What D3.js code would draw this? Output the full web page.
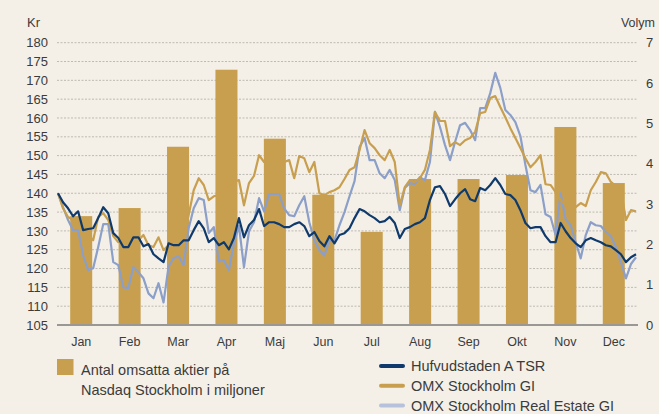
<!DOCTYPE html>
<html>
<head>
<meta charset="utf-8">
<script src="https://cdn.jsdelivr.net/npm/d3@7"></script>
<style>
  html, body { margin: 0; padding: 0; background: #f4f0e8; }
  svg { display: block; }
  text { font-family: "Liberation Sans", Arial, sans-serif; fill: #3b3b3b; }
</style>
</head>
<body>
<svg id="chart" width="659" height="414"></svg>
<script>
// Monthly trading volume (millions of shares) and month labels
const months = ["Jan", "Feb", "Mar", "Apr", "Maj", "Jun", "Jul", "Aug", "Sep", "Okt", "Nov", "Dec"];
const volume = [2.70, 2.90, 4.42, 6.33, 4.62, 3.23, 2.31, 3.62, 3.62, 3.72, 4.91, 3.52];

// Price ticks (left, Kr) and volume ticks (right)
const priceTicks = [105, 110, 115, 120, 125, 130, 135, 140, 145, 150, 155, 160, 165, 170, 175, 180];
const volumeTicks = [0, 1, 2, 3, 4, 5, 6, 7];

// Index series over the year, sampled at regular intervals
const hufvudstaden = [140.0, 137.6, 136.0, 133.9, 135.2, 130.2, 130.5, 130.7, 133.4, 136.3, 134.7, 129.4, 128.1, 125.7, 125.7, 128.3, 128.3, 125.9, 126.5, 123.8, 122.7, 121.7, 126.7, 126.2, 126.2, 127.5, 127.5, 130.2, 132.6, 130.7, 127.0, 128.1, 126.2, 127.0, 125.1, 128.1, 133.4, 128.3, 131.5, 132.9, 135.8, 131.3, 132.3, 132.3, 131.8, 131.0, 131.0, 131.8, 132.3, 131.3, 128.6, 129.7, 127.3, 125.9, 128.6, 126.7, 128.9, 129.4, 130.7, 133.4, 135.8, 135.2, 134.2, 133.4, 132.3, 132.6, 133.7, 132.1, 128.1, 130.5, 131.0, 131.8, 132.3, 133.4, 138.2, 141.6, 141.9, 139.8, 136.6, 138.4, 140.0, 141.1, 138.4, 137.9, 141.4, 140.8, 142.2, 144.0, 142.2, 139.8, 139.5, 138.2, 135.5, 132.1, 130.7, 131.0, 131.0, 128.6, 127.0, 127.0, 132.1, 129.9, 128.1, 126.7, 125.7, 127.5, 128.1, 127.5, 127.0, 126.2, 125.9, 124.9, 123.8, 121.7, 123.0, 123.8];
const omxGI = [140.0, 136.0, 133.7, 132.9, 133.7, 129.4, 128.9, 127.5, 133.7, 134.7, 132.9, 128.6, 127.0, 127.5, 126.7, 128.1, 127.5, 128.9, 126.2, 125.7, 128.3, 124.9, 126.2, 126.7, 127.0, 128.3, 134.2, 140.8, 144.0, 142.2, 138.2, 139.2, 139.5, 140.8, 142.2, 143.0, 143.5, 136.8, 142.7, 144.6, 150.1, 148.3, 148.8, 149.9, 149.3, 148.3, 148.8, 144.0, 149.9, 149.3, 145.6, 148.3, 140.0, 139.5, 140.3, 140.8, 141.6, 143.8, 146.2, 146.9, 151.5, 156.8, 153.3, 152.0, 150.1, 148.8, 151.5, 148.3, 136.8, 141.6, 143.5, 143.0, 144.0, 146.2, 151.5, 161.6, 159.2, 159.2, 152.5, 153.6, 152.8, 154.1, 154.7, 156.3, 161.3, 161.6, 165.3, 165.8, 162.9, 160.2, 157.3, 154.7, 152.0, 149.3, 146.9, 148.3, 150.1, 142.4, 142.2, 140.3, 138.2, 136.8, 136.3, 136.3, 137.4, 136.6, 140.8, 143.0, 145.6, 145.3, 143.0, 141.9, 140.8, 132.9, 135.5, 135.2];
const omxRealEstate = [140.0, 136.3, 132.9, 130.2, 130.2, 123.5, 119.6, 120.1, 125.7, 131.8, 131.8, 121.7, 120.9, 115.0, 114.8, 120.4, 119.0, 117.4, 113.4, 112.1, 116.1, 111.0, 120.6, 122.7, 123.3, 120.9, 130.7, 136.0, 138.7, 138.2, 129.4, 131.0, 121.9, 122.2, 119.6, 126.7, 131.3, 120.4, 129.9, 132.3, 138.7, 135.2, 139.8, 139.8, 139.8, 136.0, 134.2, 133.9, 136.8, 139.2, 132.3, 127.5, 124.9, 123.5, 127.5, 127.5, 131.5, 135.0, 139.2, 143.2, 152.3, 154.7, 148.8, 148.8, 145.3, 144.0, 146.2, 143.5, 135.5, 141.4, 142.7, 142.4, 144.3, 143.5, 148.3, 161.6, 157.6, 152.8, 148.8, 153.6, 158.1, 158.7, 156.8, 154.1, 162.6, 162.6, 166.6, 172.0, 168.0, 162.1, 160.8, 158.9, 155.2, 147.5, 140.8, 140.3, 142.2, 134.4, 133.7, 128.9, 140.0, 133.1, 131.5, 127.0, 122.7, 128.9, 132.3, 131.5, 131.3, 129.7, 128.6, 125.7, 121.7, 117.4, 121.2, 123.0];

const colors = {
  navy: "#0f3a6b",
  gold: "#c89f4e",
  blue: "#8c9fc8",
  blueLegend: "#b6c1dc",
  grid: "#bdbab3",
  axis: "#9a9894"
};

const svg = d3.select("#chart");
const plotLeft = 57, plotRight = 638, plotTop = 42.7, plotBottom = 325;

const yPrice = d3.scaleLinear().domain([105, 180]).range([plotBottom, plotTop]);
const yVol = d3.scaleLinear().domain([0, 7]).range([plotBottom, plotTop]);
const xMonth = d3.scaleBand().domain(months).range([plotLeft, plotRight])
  .paddingInner(0.545).paddingOuter(0.2725);
const xDay = d3.scaleLinear().domain([0, hufvudstaden.length - 1]).range([58, 636]);

// Dashed gridlines at each price tick
svg.append("g")
  .selectAll("line")
  .data(priceTicks.filter(d => d > 105))
  .join("line")
  .attr("x1", plotLeft).attr("x2", plotRight)
  .attr("y1", d => yPrice(d)).attr("y2", d => yPrice(d))
  .attr("stroke", colors.grid)
  .attr("stroke-width", 1)
  .attr("stroke-dasharray", "2,1.5");

// Volume bars
svg.append("g")
  .selectAll("rect")
  .data(months)
  .join("rect")
  .attr("x", d => xMonth(d))
  .attr("width", xMonth.bandwidth())
  .attr("y", (d, i) => yVol(volume[i]))
  .attr("height", (d, i) => yVol(0) - yVol(volume[i]))
  .attr("fill", colors.gold);

// Baseline
svg.append("line")
  .attr("x1", plotLeft).attr("x2", plotRight)
  .attr("y1", plotBottom).attr("y2", plotBottom)
  .attr("stroke", colors.axis).attr("stroke-width", 2);

// Index lines
const line = d3.line().x((d, i) => xDay(i)).y(d => yPrice(d)).curve(d3.curveLinear);
[[omxRealEstate, colors.blue], [omxGI, colors.gold], [hufvudstaden, colors.navy]].forEach(([data, c]) => {
  svg.append("path")
    .datum(data)
    .attr("d", line)
    .attr("fill", "none")
    .attr("stroke", c)
    .attr("stroke-width", 2.2)
    .attr("stroke-linejoin", "round");
});

// Left axis labels
const yAxisL = d3.axisLeft(yPrice).tickValues(priceTicks).tickSize(0).tickPadding(0);
const gL = svg.append("g").attr("transform", "translate(48,0)").call(yAxisL);
gL.select(".domain").remove();
gL.attr("font-family", null).attr("font-size", null);
gL.selectAll("text").attr("font-size", 13).attr("fill", "#3b3b3b");

// Right axis labels
const yAxisR = d3.axisRight(yVol).tickValues(volumeTicks).tickFormat(d3.format("d")).tickSize(0).tickPadding(0);
const gR = svg.append("g").attr("transform", "translate(646,0)").call(yAxisR);
gR.select(".domain").remove();
gR.attr("font-family", null).attr("font-size", null);
gR.selectAll("text").attr("font-size", 13).attr("fill", "#3b3b3b");

// Month labels
const xAxis = d3.axisBottom(xMonth).tickSize(0).tickPadding(0);
const gX = svg.append("g").attr("transform", "translate(0,337)").call(xAxis);
gX.select(".domain").remove();
gX.attr("font-family", null).attr("font-size", null);
gX.selectAll("text").attr("font-size", 12.5).attr("fill", "#3b3b3b");

// Axis titles
svg.append("text").attr("x", 27).attr("y", 27).attr("font-size", 13).text("Kr");
svg.append("text").attr("x", 655).attr("y", 27).attr("text-anchor", "end").attr("font-size", 12.5).text("Volym");

// Legend: volume swatch
svg.append("rect").attr("x", 57).attr("y", 359).attr("width", 16.5).attr("height", 16).attr("fill", colors.gold);
svg.append("text").attr("x", 81).attr("y", 374.7).attr("font-size", 14.5).text("Antal omsatta aktier på");
svg.append("text").attr("x", 81).attr("y", 394.7).attr("font-size", 14.5).text("Nasdaq Stockholm i miljoner");

// Legend: lines
const legendItems = [
  { label: "Hufvudstaden A TSR", color: colors.navy },
  { label: "OMX Stockholm GI", color: colors.gold },
  { label: "OMX Stockholm Real Estate GI", color: colors.blueLegend }
];
const lg = svg.append("g");
legendItems.forEach((d, i) => {
  const cy = 366 + i * 19.7;
  lg.append("line").attr("x1", 381).attr("x2", 403).attr("y1", cy).attr("y2", cy)
    .attr("stroke", d.color).attr("stroke-width", 4).attr("stroke-linecap", "round");
  lg.append("text").attr("x", 411).attr("y", cy + 5.2).attr("font-size", 14.5).text(d.label);
});
</script>
</body>
</html>
